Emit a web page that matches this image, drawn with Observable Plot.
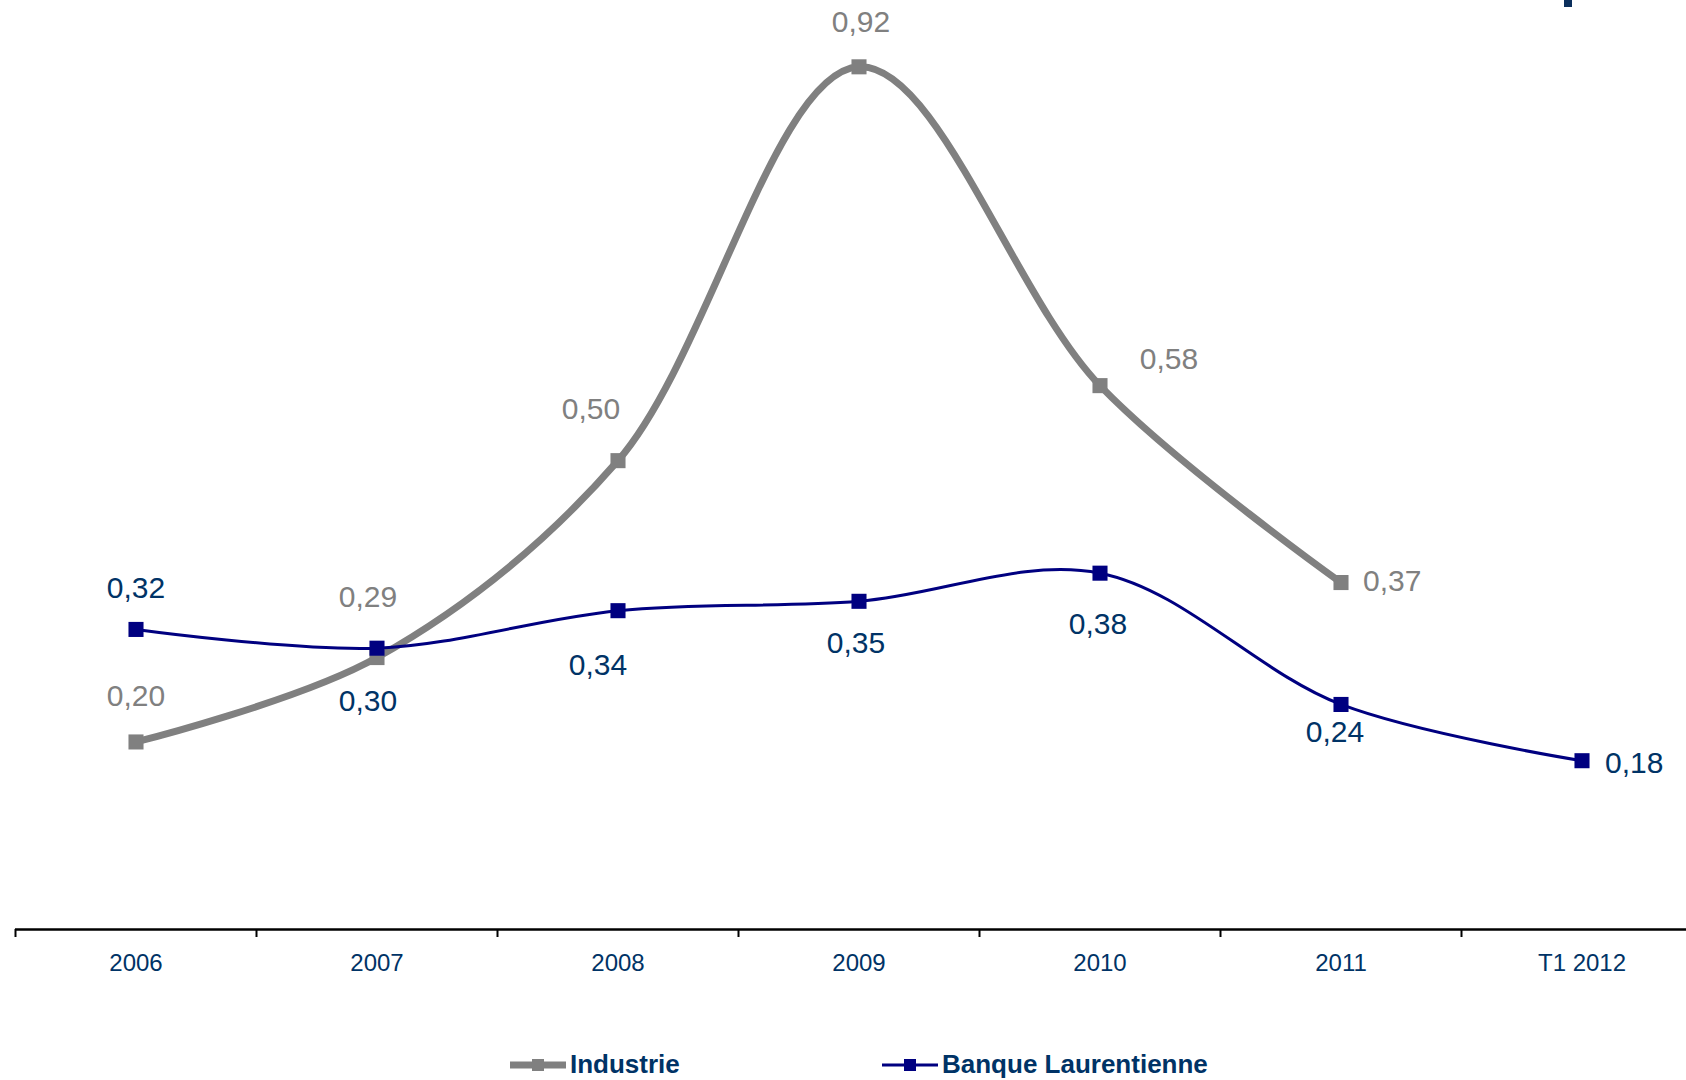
<!DOCTYPE html>
<html>
<head>
<meta charset="utf-8">
<script src="https://cdn.jsdelivr.net/npm/d3@7"></script>
<script src="https://cdn.jsdelivr.net/npm/@observablehq/plot@0.6"></script>
<style>
  html, body { margin: 0; padding: 0; background: #fff; overflow: hidden; }
  #wrap { position: relative; width: 1686px; height: 1080px; overflow: hidden; font-family: "Liberation Sans", Arial, sans-serif; }
  #wrap > svg { display: block; }
  .legend-item { position: absolute; display: flex; align-items: center; font-weight: bold; font-size: 26px; color: #003366; white-space: nowrap; }
  .legend-item svg { margin-right: 4px; }
  #logo { position: absolute; left: 1564px; top: 0; width: 8px; height: 7px; background: #0b2f5c; }
</style>
</head>
<body>
<div id="wrap"></div>
<script>
// ---- data ----
const categories = ["2006", "2007", "2008", "2009", "2010", "2011", "T1 2012"];
const industrie = [0.20, 0.29, 0.50, 0.92, 0.58, 0.37, null];
const banque = [0.32, 0.30, 0.34, 0.35, 0.38, 0.24, 0.18];
const seriesNames = ["Industrie", "Banque Laurentienne"];

// ---- styling / placement ----
const grey = "#808080";
const navy = "#000080";
const labelBlue = "#003366";
// label placement relative to its point: [dx, dy, anchor]
const industriePlacement = [[0, -46, "middle"], [-9, -60, "middle"], [-27, -51, "middle"], [2, -44, "middle"], [69, -26, "middle"], [22, -1, "start"], null];
const banquePlacement = [[0, -41, "middle"], [-9, 53, "middle"], [-20, 55, "middle"], [-3, 42, "middle"], [-2, 51, "middle"], [-6, 28, "middle"], [23, 3, "start"]];

const fmt = v => v.toFixed(2).replace(".", ",");

const indData = categories.map((c, i) => ({i, c, v: industrie[i]})).filter(d => d.v != null);
const banData = categories.map((c, i) => ({i, c, v: banque[i]}));

const W = 1686, H = 1030, axisY = 929, pxPerUnit = 937.7;

function labelMarks(data, placement, color) {
  return data.map(d => {
    const p = placement[d.i];
    return Plot.text([d], {
      x: "i", y: "v", text: e => fmt(e.v),
      dx: p[0], dy: p[1], textAnchor: p[2],
      fill: color, fontSize: 30, fontFamily: "Liberation Sans, Arial, sans-serif"
    });
  });
}

const boundaries = d3.range(-0.5, categories.length + 0.5, 1);

const chart = Plot.plot({
  width: W,
  height: H,
  marginLeft: 15,
  marginRight: 0,
  marginTop: 0,
  marginBottom: H - axisY,
  style: {fontFamily: "Liberation Sans, Arial, sans-serif", background: "#fff"},
  x: {type: "linear", label: null, domain: [-0.5, categories.length - 0.5], range: [15, 15 + 241 * categories.length]},
  y: {label: null, domain: [0, 1], range: [axisY, axisY - pxPerUnit]},
  marks: [
    Plot.axisX({ticks: boundaries, tickFormat: () => "", tickSize: 8, stroke: "#000", strokeWidth: 2, strokeOpacity: 1, label: null}),
    Plot.axisX({ticks: d3.range(categories.length), tickFormat: i => categories[i], tickSize: 0, tickPadding: 24, fontSize: 24, fill: labelBlue, label: null}),
    Plot.axisY({ticks: [], label: null, tickSize: 0}),
    Plot.ruleY([0], {stroke: "#000", strokeWidth: 2.5}),
    Plot.line(indData, {x: "i", y: "v", stroke: grey, strokeWidth: 7, curve: "catmull-rom"}),
    Plot.dot(indData, {x: "i", y: "v", symbol: "square", r: 8.5, fill: grey, stroke: "none"}),
    Plot.line(banData, {x: "i", y: "v", stroke: navy, strokeWidth: 3, curve: "catmull-rom"}),
    Plot.dot(banData, {x: "i", y: "v", symbol: "square", r: 8.5, fill: navy, stroke: "none"}),
    ...labelMarks(indData, industriePlacement, grey),
    ...labelMarks(banData, banquePlacement, labelBlue)
  ]
});

const wrap = document.getElementById("wrap");
wrap.appendChild(chart);

// legend
function legendItem(name, color, lw, left) {
  const div = document.createElement("div");
  div.className = "legend-item";
  div.style.left = left + "px";
  div.style.top = "1049px";
  div.innerHTML = `<svg width="56" height="20"><line x1="0" y1="10" x2="56" y2="10" stroke="${color}" stroke-width="${lw}" stroke-linecap="round"/><rect x="22" y="4" width="12" height="12" fill="${color}"/></svg><span>${name}</span>`;
  wrap.appendChild(div);
}
legendItem(seriesNames[0], grey, 7, 510);
legendItem(seriesNames[1], navy, 3, 882);

const logo = document.createElement("div");
logo.id = "logo";
wrap.appendChild(logo);
</script>
</body>
</html>
